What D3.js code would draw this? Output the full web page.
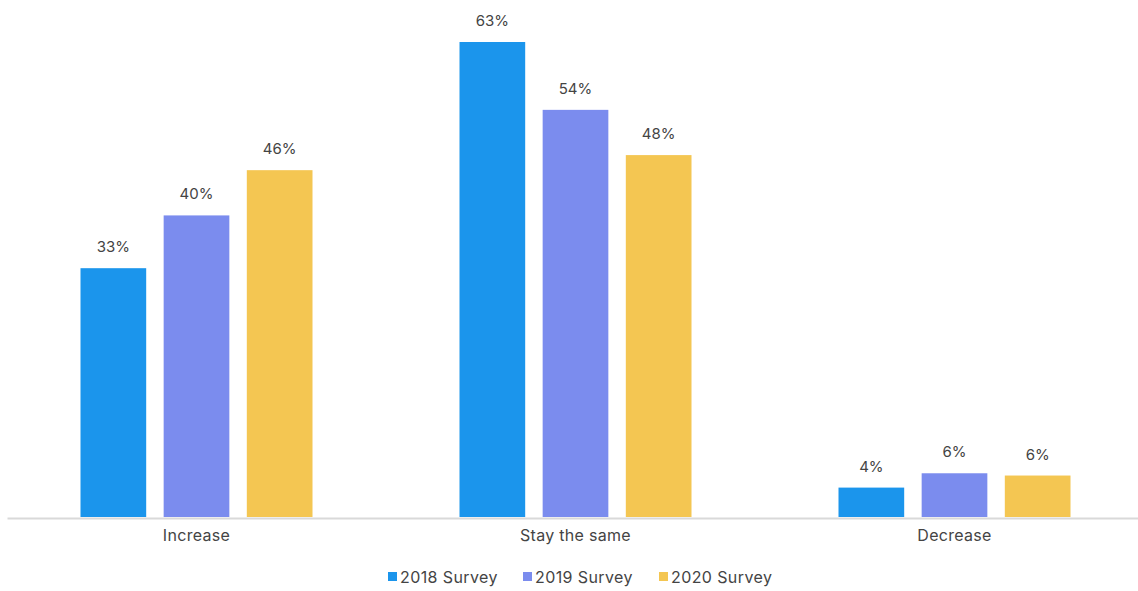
<!DOCTYPE html>
<html>
<head>
<meta charset="utf-8">
<script src="https://cdn.jsdelivr.net/npm/d3@7"></script>
<style>
  body { margin: 0; background: #fff; }
  text { font-family: Inter, "Noto Sans", sans-serif; fill: #444; }
</style>
</head>
<body>
<svg id="chart" width="1138" height="591"></svg>
<script>
// data
const categories = ["Increase", "Stay the same", "Decrease"]
const series = ["2018 Survey", "2019 Survey", "2020 Survey"]
const values2018 = [33, 63, 3.9]
const values2019 = [40, 54, 5.8]
const values2020 = [46, 48, 5.5]
const colors = ["#1b95ec", "#7b8cee", "#f4c652"]

const allValues = [values2018, values2019, values2020]
const rows = categories.map((c, i) => ({
  cat: c,
  vals: series.map((s, j) => ({ key: s, value: allValues[j][i] }))
}))

const svg = d3.select("#chart")
const baseY = 517

// scales
const x0 = d3.scaleBand()
  .domain(categories)
  .range([7, 1144])
  .padding(0)

const x1 = d3.scaleBand()
  .domain(series)
  .range([-116, 116])
  .paddingInner(0.21)
  .paddingOuter(0)

const y = d3.scaleLinear()
  .domain([0, 63])
  .range([baseY, 42])

const color = d3.scaleOrdinal().domain(series).range(colors)

// bars
const groups = svg.append("g")
  .selectAll("g")
  .data(rows)
  .join("g")
  .attr("transform", d => `translate(${x0(d.cat) + x0.bandwidth() / 2},0)`)

groups.selectAll("rect")
  .data(d => d.vals)
  .join("rect")
  .attr("x", d => x1(d.key))
  .attr("y", d => y(d.value))
  .attr("width", x1.bandwidth())
  .attr("height", d => baseY - y(d.value))
  .attr("fill", d => color(d.key))

groups.selectAll("text")
  .data(d => d.vals)
  .join("text")
  .attr("x", d => x1(d.key) + x1.bandwidth() / 2)
  .attr("y", d => y(d.value) - 16)
  .attr("text-anchor", "middle")
  .style("font-size", "15px")
  .text(d => Math.round(d.value) + "%")

// x axis
const xAxis = d3.axisBottom(x0).tickSize(0).tickPadding(12)
const axisG = svg.append("g")
  .attr("transform", `translate(0,${baseY + 1})`)
  .call(xAxis)
axisG.select(".domain").attr("stroke", "#d9d9d9").attr("stroke-width", 2)
axisG.selectAll("text")
  .style("font-size", "16px")
  .style("letter-spacing", "0.3px")
  .style("font-family", "Inter, 'Noto Sans', sans-serif")
  .attr("fill", "#444")

// legend
const legendX = [388, 523, 659]
const legend = svg.append("g")
  .selectAll("g")
  .data(series)
  .join("g")
  .attr("transform", (d, i) => `translate(${legendX[i]},577)`)

legend.append("rect")
  .attr("x", 0)
  .attr("y", -5)
  .attr("width", 9)
  .attr("height", 9)
  .attr("fill", d => color(d))

legend.append("text")
  .attr("x", 12)
  .attr("y", 0)
  .attr("dy", "0.35em")
  .style("font-size", "16px")
  .style("letter-spacing", "0.4px")
  .text(d => d)
</script>
</body>
</html>
